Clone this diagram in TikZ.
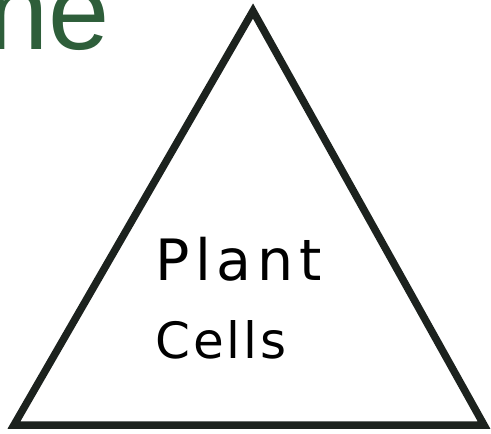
\documentclass[tikz,border=0pt]{standalone}
\usepackage{fontspec}
\setmainfont{Liberation Sans}
\newfontfamily\handfont[LetterSpace=6]{DejaVu Sans}
\newfontfamily\handwide[LetterSpace=10]{DejaVu Sans}
\definecolor{titlegreen}{RGB}{46,94,58}
\definecolor{inkline}{RGB}{28,34,30}
\tikzset{
  hand/.style={anchor=base west, inner sep=0pt, font=\handfont\fontsize{50}{50}\selectfont, text=black},
  handbig/.style={hand, font=\handwide\fontsize{57}{57}\selectfont},
}
\begin{document}
\begin{tikzpicture}[x=1pt, y=-1pt]
    \useasboundingbox (0,0) rectangle (491,434);
    \clip (0,0) rectangle (491,434);

    % Cut-off title letters
    \node[anchor=base east, inner sep=0pt, text=titlegreen, font=\fontsize{110}{110}\selectfont] (title) at (110,49) {ne};

    % Triangle corners
    \coordinate (apex) at (253,11);
    \coordinate (left) at (14,425);
    \coordinate (right) at (484,425);

    % Main triangle
    \draw[inkline, line width=7.5pt, line join=miter] (apex) -- (right) -- (left) -- cycle;

    % Labels
    \node[handbig] (plant) at (155,280) {Plant};
    \node[hand] (cells) at (155,358) {Cells};
\end{tikzpicture}
\end{document}
